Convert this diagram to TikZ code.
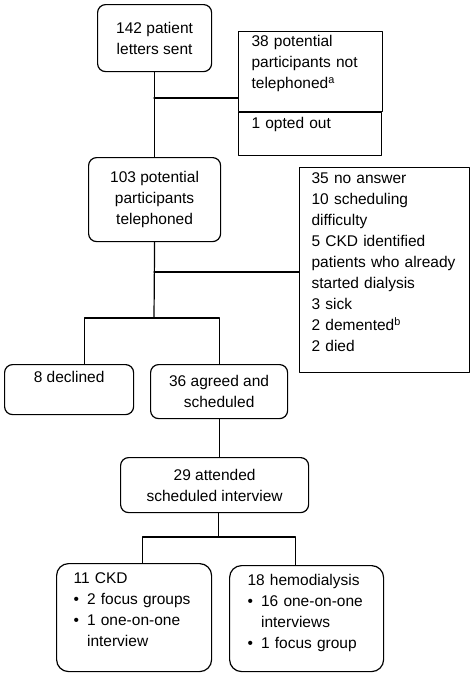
\documentclass[tikz,border=0pt]{standalone}
\usepackage{fontspec}
\setmainfont{Liberation Sans}
\newcommand{\blt}[1]{\makebox[13.5pt][l]{\textbullet}#1}
\newcommand{\cnt}[1]{\hspace*{13.5pt}#1}

\begin{document}
\begin{tikzpicture}[line cap=round,line join=round,x=1pt,y=-1pt,
  every node/.style={font=\fontsize{15.5pt}{21pt}\selectfont,anchor=north west,inner ysep=0pt},
  rbox/.style={draw,line width=1.2pt,rounded corners=8pt,align=center},
  sqbox/.style={draw,line width=1.2pt,align=left},
  link/.style={line width=1.2pt}]
\useasboundingbox (0,0) rectangle (473,675);
% boxes
\node [rbox,minimum width=114pt,minimum height=67pt] (letters) at (97,4) {142 patient\\letters sent};
\node [sqbox,inner xsep=13pt,text width=118pt,text height=15pt,text depth=65pt] (notcalled) at (238,31) {38 potential\\participants not\\telephoned\textsuperscript{a}};
\node [sqbox,inner xsep=13pt,text width=117pt,text height=16pt,text depth=27pt] (optout) at (238,112) {1 opted out};
\node [rbox,minimum width=132pt,minimum height=84pt] (called) at (88,157) {103 potential\\participants\\telephoned};
\node [sqbox,inner xsep=12pt,text width=146pt,text height=16pt,text depth=189pt] (noreach) at (299,167) {35 no answer\\10 scheduling\\difficulty\\5 CKD identified\\patients who already\\started dialysis\\3 sick\\2 demented\textsuperscript{b}\\2 died};
\node [rbox,minimum width=129pt,text height=18pt,text depth=32pt] (declined) at (4,364) {8 declined};
\node [rbox,minimum width=137pt,minimum height=54pt] (agreed) at (150,364) {36 agreed and\\scheduled};
\node [rbox,minimum width=188pt,minimum height=55pt] (attended) at (120,457) {29 attended\\scheduled interview};
\node [sqbox,rounded corners=12pt,inner xsep=17pt,text width=121pt,text height=20pt,text depth=88pt] (ckd) at (56,563) {11 CKD\\\blt{2 focus groups}\\\blt{1 one-on-one}\\\cnt{interview}};
\node [sqbox,rounded corners=12pt,inner xsep=18pt,text width=118pt,text height=20pt,text depth=86pt] (hemo) at (229,565) {18 hemodialysis\\\blt{16 one-on-one}\\\cnt{interviews}\\\blt{1 focus group}};
% connectors
\coordinate (j1) at (154,98);
\coordinate (j2) at (154,272);
\coordinate (split1) at (154,318);
\coordinate (split2) at (218.5,537);
\draw [link] (letters.south) -- (called.north);
\draw [link] (j1) -- (j1 -| notcalled.west);
\draw [link] (called.south) -- (split1);
\draw [link] (j2) -- (j2 -| noreach.west);
\draw [link] ([xshift=15.5pt]declined.north) |- (split1) -| (agreed.north);
\draw [link] (agreed.south) -- (agreed.south |- attended.north);
\draw [link] (split2 |- attended.south) -- (split2);
\draw [link] ([xshift=8.5pt]ckd.north) |- (split2) -| ([xshift=-11pt]hemo.north);
\end{tikzpicture}
\end{document}
